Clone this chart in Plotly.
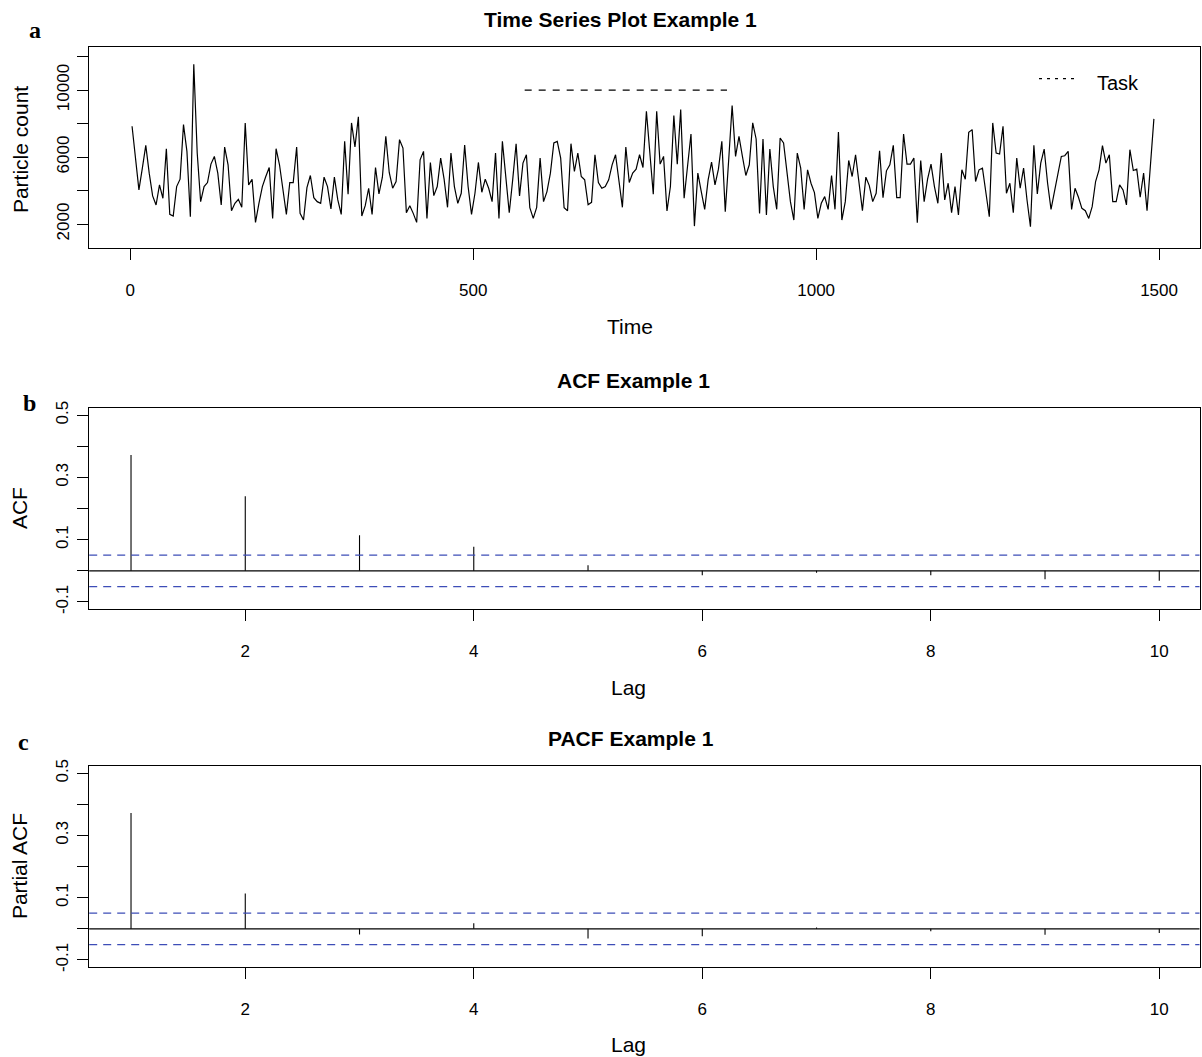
import plotly.graph_objects as go

# ---------------- data ----------------
particle_count = [
    7840, 5940, 4040, 5340, 6700, 5040, 3680, 3140, 4340, 3540,
    6500, 2580, 2480, 4240, 4680, 7940, 6340, 2440, 11540, 6240,
    3340, 4240, 4480, 5580, 6040, 5040, 3140, 6600, 5540, 2800,
    3240, 3480, 3000, 8040, 4340, 4680, 2100, 3240, 4240, 4840,
    5380, 2340, 6500, 5540, 4040, 2580, 4480, 4480, 6600, 2640,
    2240, 4180, 4900, 3580, 3340, 3240, 4800, 4240, 2900, 4800,
    3440, 2580, 6940, 3780, 8040, 6600, 8400, 2480, 3100, 4140,
    2580, 5380, 3800, 4800, 7240, 5080, 4140, 4540, 7040, 6540,
    2680, 3100, 2640, 2100, 5840, 6340, 2340, 5680, 3700, 4240,
    5940, 4680, 3000, 6240, 4240, 3240, 3840, 6720, 4240, 2580,
    3840, 5680, 3900, 4680, 4140, 3340, 6240, 2340, 6940, 4640,
    2680, 4640, 6800, 3680, 5640, 6140, 2980, 2340, 3000, 5940,
    3340, 3940, 5040, 6840, 6940, 5940, 2980, 2800, 6800, 5140,
    6240, 4840, 4640, 3160, 3300, 6140, 4480, 4140, 4240, 4640,
    5540, 6140, 4640, 3000, 6600, 4480, 5040, 5280, 6140, 5380,
    8740, 6440, 3780, 8740, 5580, 6040, 2780, 4240, 8480, 5580,
    8840, 3540, 5680, 7380, 1880, 5040, 3940, 2880, 4640, 5700,
    4340, 5280, 6940, 2740, 5840, 9080, 6040, 7240, 6040, 4900,
    5540, 8040, 7080, 2640, 7080, 2540, 6480, 4240, 2880, 7140,
    6840, 5040, 3340, 2240, 6240, 5340, 2880, 5240, 4440, 3880,
    2340, 3240, 3640, 2880, 4900, 2880, 7500, 2240, 3340, 5800,
    4840, 6140, 4440, 2800, 4800, 4300, 3340, 3840, 6380, 3580,
    5180, 5540, 6700, 3580, 3580, 7380, 5580, 5580, 5940, 2080,
    5800, 3340, 4680, 5580, 4240, 3240, 6240, 3440, 4440, 2680,
    4240, 2540, 5240, 4680, 7480, 7640, 4540, 5240, 5340, 3840,
    2440, 8040, 6240, 6180, 7840, 3840, 4440, 2680, 5940, 4140,
    5340, 3440, 1840, 6700, 3800, 5640, 6480, 4440, 2880, 3940,
    4940, 6040, 6080, 6340, 2880, 4140, 3600, 2940, 2800, 2340,
    3040, 4540, 5240, 6680, 5640, 6140, 3340, 3340, 4340, 4040,
    3140, 6440, 5200, 5280, 3600, 5040, 2800, 5540, 8280,
]
time_start = 2.5
time_step = 5
task_interval = [575, 870]
task_level = 10000

lags = [1, 2, 3, 4, 5, 6, 7, 8, 9, 10]
acf_values = [0.3725, 0.240, 0.114, 0.077, 0.018, -0.014, -0.006, -0.014, -0.027, -0.032]
pacf_values = [0.3725, 0.114, -0.018, 0.018, -0.031, -0.024, 0.004, -0.008, -0.019, -0.013]
conf_limit = 0.0506

ts_yticks = [2000, 4000, 6000, 8000, 10000, 12000]
ts_yticklabels = ["2000", "", "6000", "", "10000", ""]
ts_xticks = [0, 500, 1000, 1500]
cf_yticks = [-0.1, 0.0, 0.1, 0.2, 0.3, 0.4, 0.5]
cf_yticklabels = ["-0.1", "", "0.1", "", "0.3", "", "0.5"]
lag_ticks = [2, 4, 6, 8, 10]

# ---------------- layout helpers ----------------
W, H = 1202, 1057
FONT = "Liberation Sans, Arial, Helvetica, sans-serif"
SERIF = "Liberation Serif, Times New Roman, serif"
BLUE = "#3d4db7"

# the captured picture shows the page slightly squeezed vertically;
# convert the wanted picture position into a page position
V_SCALE, V_SHIFT = 0.9886, 7.0


def px(x):
    return x / W


def py(y):
    return 1 - (y / V_SCALE - V_SHIFT) / H


FRAME_L, FRAME_R = 89.2, 1199.5

time = [time_start + time_step * i for i in range(len(particle_count))]

fig = go.Figure()

# panel a
fig.add_trace(go.Scatter(x=time, y=particle_count, mode="lines",
                         line=dict(color="black", width=1.2),
                         xaxis="x", yaxis="y", showlegend=False, hoverinfo="skip"))
fig.add_trace(go.Scatter(x=task_interval, y=[task_level, task_level], mode="lines",
                         line=dict(color="black", width=1.1, dash="7px,7px"),
                         xaxis="x", yaxis="y", showlegend=False, hoverinfo="skip"))


def stems(lag_list, vals):
    xs, ys = [], []
    for l, v in zip(lag_list, vals):
        xs += [l, l, None]
        ys += [0, v, None]
    return xs, ys


for k, vals in ((2, acf_values), (3, pacf_values)):
    xs, ys = stems(lags, vals)
    fig.add_trace(go.Scatter(x=xs, y=ys, mode="lines",
                             line=dict(color="black", width=1.1),
                             xaxis=f"x{k}", yaxis=f"y{k}", showlegend=False, hoverinfo="skip"))

shapes = []
for k in (2, 3):
    shapes.append(dict(type="line", xref=f"x{k} domain", yref=f"y{k}", x0=0, x1=1, y0=0, y1=0,
                       line=dict(color="black", width=1.2)))
    for s in (1, -1):
        shapes.append(dict(type="line", xref=f"x{k} domain", yref=f"y{k}", x0=0, x1=1,
                           y0=s * conf_limit, y1=s * conf_limit,
                           line=dict(color=BLUE, width=1.2, dash="8px,6px")))

# legend sample (dotted)
shapes.append(dict(type="line", xref="paper", yref="paper", x0=px(1039), x1=px(1074),
                   y0=py(78.5), y1=py(78.5), line=dict(color="black", width=1.2, dash="3px,5px")))

xdom = [px(FRAME_L), px(FRAME_R)]
common = dict(showline=True, linecolor="black", linewidth=1, mirror=True,
              ticks="outside", ticklen=11, tickwidth=1, tickcolor="black",
              showgrid=False, zeroline=False,
              tickfont=dict(family=FONT, size=17, color="black"))

layout = dict(
    width=W, height=H, margin=dict(l=0, r=0, t=0, b=0),
    paper_bgcolor="white", plot_bgcolor="white",
    xaxis=dict(domain=xdom, range=[-60, 1559], tickvals=ts_xticks, anchor="y",
               ticklabelstandoff=15, **common),
    yaxis=dict(domain=[py(248.3), py(46.7)], range=[549, 12585], tickvals=ts_yticks,
               ticktext=ts_yticklabels, tickangle=-90, anchor="x",
               ticklabelstandoff=1, **common),
    xaxis2=dict(domain=xdom, range=[0.634, 10.352], tickvals=lag_ticks, anchor="y2",
                ticklabelstandoff=15, **common),
    yaxis2=dict(domain=[py(609.3), py(407.7)], range=[-0.124, 0.524], tickvals=cf_yticks,
                ticktext=cf_yticklabels, tickangle=-90, anchor="x2",
                ticklabelstandoff=2, **common),
    xaxis3=dict(domain=xdom, range=[0.634, 10.352], tickvals=lag_ticks, anchor="y3",
                ticklabelstandoff=15, **common),
    yaxis3=dict(domain=[py(967.3), py(765.7)], range=[-0.124, 0.524], tickvals=cf_yticks,
                ticktext=cf_yticklabels, tickangle=-90, anchor="x3",
                ticklabelstandoff=2, **common),
    shapes=shapes,
)
fig.update_layout(**layout)


def ann(text, x, y, size, family=FONT, bold=False, angle=0, xanchor="center"):
    t = f"<b>{text}</b>" if bold else text
    fig.add_annotation(text=t, x=px(x), y=py(y), xref="paper", yref="paper",
                       showarrow=False, xanchor=xanchor, yanchor="middle", textangle=angle,
                       font=dict(family=family, size=size, color="black"))


# titles
ann("Time Series Plot Example 1", 620, 19.5, 21, bold=True)
ann("ACF Example 1", 633, 380, 21, bold=True)
ann("PACF Example 1", 631, 738.5, 21, bold=True)
# panel letters
ann("a", 35, 30, 24, family=SERIF, bold=True)
ann("b", 29.5, 403, 24, family=SERIF, bold=True)
ann("c", 23.7, 742, 24, family=SERIF, bold=True)
# axis titles
ann("Time", 630, 326, 21)
ann("Lag", 628, 687, 21)
ann("Lag", 628, 1044, 21)
ann("Particle count", 20, 150, 21, angle=-90)
ann("ACF", 19.5, 508.5, 21, angle=-90)
ann("Partial ACF", 19, 866, 21, angle=-90)
# legend text
ann("Task", 1095, 83, 20, xanchor="left")

# remove the default page margins so the figure fills the window exactly
page_fix = (
    "document.documentElement.style.margin='0';"
    "document.documentElement.style.padding='0';"
    "document.documentElement.style.overflow='hidden';"
    "document.body.style.margin='0';"
    "document.body.style.padding='0';"
    "document.body.style.overflow='hidden';"
    "var gd=document.getElementById('{plot_id}');"
    "gd.style.display='block';"
    "if(gd.parentElement){gd.parentElement.style.margin='0';gd.parentElement.style.padding='0';}"
)

fig.write_html("out.html", post_script=page_fix, config={"displayModeBar": False})
